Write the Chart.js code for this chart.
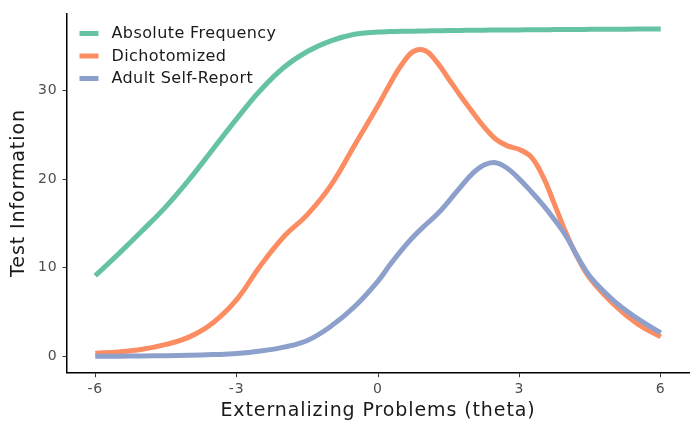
<!DOCTYPE html>
<html>
<head>
<meta charset="utf-8">
<script src="https://cdn.jsdelivr.net/npm/chart.js@4"></script>
<style>
  html, body { margin: 0; padding: 0; background: #fff; }
  #wrap { width: 700px; height: 432px; }
</style>
</head>
<body>
<div id="wrap"><canvas id="myChart" width="700" height="432"></canvas></div>
<script>
// theta grid the information curves are read at
const theta = [-6, -5.5, -5, -4.5, -4, -3.5, -3, -2.5, -2, -1.5, -1, -0.5,
               0, 0.25, 0.5, 0.75, 1, 1.25, 1.5, 1.75, 2, 2.25, 2.5, 2.75,
               3, 3.25, 3.5, 3.75, 4, 4.25, 4.5, 5, 5.5, 6];

const absoluteFrequency = [9.1, 11.6, 14.2, 16.9, 20.0, 23.4, 26.8, 30.0, 32.6, 34.4, 35.6, 36.35,
                           36.6, 36.65, 36.68, 36.7, 36.72, 36.74, 36.76, 36.78, 36.8, 36.81, 36.82, 36.83,
                           36.84, 36.85, 36.86, 36.87, 36.88, 36.89, 36.9, 36.92, 36.93, 36.95];

const dichotomized = [0.35, 0.5, 0.8, 1.35, 2.2, 3.8, 6.4, 10.2, 13.5, 16.0, 19.3, 23.8,
                      28.3, 30.7, 32.9, 34.4, 34.5, 33.2, 31.3, 29.4, 27.6, 25.9, 24.5, 23.75,
                      23.35, 22.5, 20.3, 17.1, 13.8, 11.0, 8.8, 5.9, 3.7, 2.2];

const adultSelfReport = [0.02, 0.03, 0.05, 0.08, 0.12, 0.2, 0.32, 0.6, 1.05, 1.8, 3.4, 5.6,
                         8.5, 10.3, 12.0, 13.5, 14.8, 16.0, 17.5, 19.1, 20.6, 21.6, 21.85, 21.2,
                         20.0, 18.6, 17.1, 15.4, 13.5, 11.1, 9.0, 6.3, 4.3, 2.65];

const seriesNames = ['Absolute Frequency', 'Dichotomized', 'Adult Self-Report'];
const xTicks = [-6, -3, 0, 3, 6];
const yTicks = [0, 10, 20, 30];

const colors = ['#66c2a5', '#fc8d62', '#8da0cb'];
const FONT = '"DejaVu Sans"';

const toPoints = (ys) => theta.map((t, i) => ({ x: t, y: ys[i] }));

// wide lettering, closer to the original typeface
const spacing = {
  id: 'spacing',
  beforeDraw(chart) { chart.ctx.letterSpacing = '0.9px'; }
};

// legend drawn inside the panel, top left
const insideLegend = {
  id: 'insideLegend',
  afterDraw(chart) {
    const ctx = chart.ctx;
    ctx.save();
    ctx.letterSpacing = '0.4px';
    ctx.font = '16px ' + FONT;
    ctx.textBaseline = 'middle';
    chart.data.datasets.forEach((ds, i) => {
      const y = 33.5 + i * 22.5;
      ctx.fillStyle = ds.borderColor;
      ctx.fillRect(79.5, y - 2.5, 19, 5);
      ctx.fillStyle = '#1a1a1a';
      ctx.fillText(ds.label, 111.5, y + 0.5);
    });
    ctx.restore();
  }
};

const datasets = [absoluteFrequency, dichotomized, adultSelfReport].map((ys, i) => ({
  label: seriesNames[i],
  data: toPoints(ys),
  borderColor: colors[i],
  backgroundColor: colors[i],
  borderWidth: 5,
  pointRadius: 0,
  tension: 0.4,
  fill: false,
  order: 2 - i
}));

new Chart(document.getElementById('myChart').getContext('2d'), {
  type: 'line',
  data: { datasets },
  options: {
    responsive: false,
    animation: false,
    layout: { padding: { top: 11, right: 11, left: 0, bottom: 0 } },
    plugins: {
      legend: { display: false },
      tooltip: { enabled: false }
    },
    scales: {
      x: {
        type: 'linear',
        min: -6.6,
        max: 6.6,
        afterBuildTicks: (scale) => { scale.ticks = xTicks.map(v => ({ value: v })); },
        afterFit: (scale) => { scale.height = 59.3; },
        grid: { display: true, drawOnChartArea: false, drawTicks: true, tickLength: 4.5, color: '#333', lineWidth: 1 },
        border: { display: true, color: '#000', width: 1.5 },
        ticks: { color: '#4d4d4d', font: { family: FONT, size: 14 }, padding: 3.5, maxRotation: 0 },
        title: {
          display: true,
          text: 'Externalizing Problems (theta)',
          color: '#1a1a1a',
          font: { family: FONT, size: 19 },
          padding: { top: 0, bottom: 10 }
        }
      },
      y: {
        type: 'linear',
        min: -1.84,
        max: 38.7,
        afterBuildTicks: (scale) => { scale.ticks = yTicks.map(v => ({ value: v })); },
        afterFit: (scale) => { scale.width = 67; },
        grid: { display: true, drawOnChartArea: false, drawTicks: true, tickLength: 4.5, color: '#333', lineWidth: 1 },
        border: { display: true, color: '#000', width: 1.5 },
        ticks: { color: '#4d4d4d', font: { family: FONT, size: 14 }, padding: 5 },
        title: {
          display: true,
          text: 'Test Information',
          color: '#1a1a1a',
          font: { family: FONT, size: 19 },
          padding: { top: 8, bottom: 0 }
        }
      }
    }
  },
  plugins: [spacing, insideLegend]
});
</script>
</body>
</html>
